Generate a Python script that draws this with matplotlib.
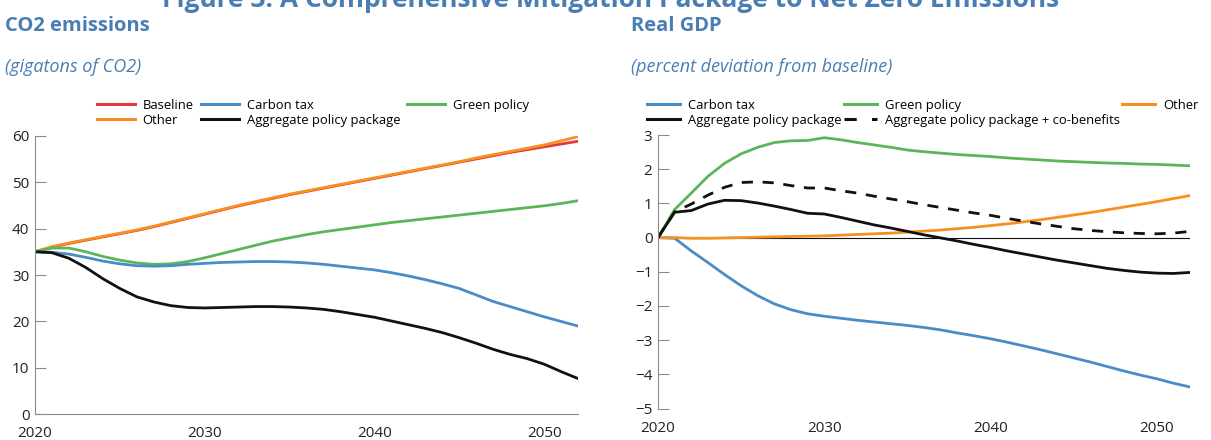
import matplotlib
matplotlib.use("Agg")
import matplotlib.pyplot as plt
from matplotlib.lines import Line2D

plt.rcParams['font.family'] = ['Open Sans', 'DejaVu Sans']

years = list(range(2020, 2053))

# CO2 emissions (gigatons of CO2)
co2_baseline = [35.0, 36.0, 36.8, 37.5, 38.2, 38.9, 39.6, 40.4, 41.3, 42.2, 43.1, 44.0, 44.9, 45.7, 46.5,
                47.3, 48.0, 48.7, 49.4, 50.1, 50.8, 51.5, 52.2, 52.9, 53.6, 54.3, 55.0, 55.7, 56.4, 57.0,
                57.6, 58.2, 58.8]
co2_other = [35.0, 36.1, 36.9, 37.6, 38.3, 39.0, 39.7, 40.5, 41.4, 42.3, 43.2, 44.1, 45.0, 45.8, 46.6,
             47.4, 48.1, 48.8, 49.5, 50.2, 50.9, 51.6, 52.3, 53.0, 53.7, 54.4, 55.2, 55.9, 56.6, 57.3,
             58.0, 58.9, 59.8]
co2_carbon_tax = [35.0, 34.9, 34.5, 33.8, 33.0, 32.4, 32.0, 31.9, 32.0, 32.3, 32.5, 32.7, 32.8, 32.9, 32.9,
                  32.8, 32.6, 32.3, 31.9, 31.5, 31.1, 30.5, 29.8, 29.0, 28.1, 27.1, 25.7, 24.3, 23.2, 22.1,
                  21.0, 20.0, 19.0]
co2_green = [35.0, 35.8, 35.8, 35.0, 34.0, 33.2, 32.6, 32.3, 32.4, 32.9, 33.7, 34.6, 35.5, 36.4, 37.3,
             38.0, 38.7, 39.3, 39.8, 40.3, 40.8, 41.3, 41.7, 42.1, 42.5, 42.9, 43.3, 43.7, 44.1, 44.5,
             44.9, 45.4, 46.0]
co2_aggregate = [35.0, 34.8, 33.6, 31.6, 29.2, 27.1, 25.3, 24.2, 23.4, 23.0, 22.9, 23.0, 23.1, 23.2, 23.2,
                 23.1, 22.9, 22.6, 22.1, 21.5, 20.9, 20.1, 19.3, 18.5, 17.6, 16.5, 15.3, 14.0, 12.9, 12.0,
                 10.8, 9.2, 7.7]

# Real GDP (percent deviation from baseline)
gdp_carbon_tax = [0.0, -0.02, -0.39, -0.73, -1.08, -1.41, -1.70, -1.94, -2.11, -2.23, -2.30, -2.36, -2.42,
                  -2.47, -2.52, -2.57, -2.63, -2.70, -2.79, -2.87, -2.96, -3.06, -3.17, -3.28, -3.40,
                  -3.52, -3.64, -3.77, -3.90, -4.02, -4.13, -4.26, -4.37]
gdp_green = [0.0, 0.82, 1.30, 1.79, 2.17, 2.45, 2.64, 2.78, 2.83, 2.84, 2.92, 2.86, 2.78, 2.71, 2.64,
             2.56, 2.51, 2.47, 2.43, 2.40, 2.37, 2.33, 2.30, 2.27, 2.24, 2.22, 2.20, 2.18, 2.17, 2.15,
             2.14, 2.12, 2.10]
gdp_other = [0.0, 0.0, -0.02, -0.02, -0.01, 0.0, 0.01, 0.02, 0.03, 0.04, 0.05, 0.07, 0.09, 0.11, 0.13,
             0.16, 0.19, 0.22, 0.26, 0.30, 0.35, 0.40, 0.46, 0.52, 0.59, 0.66, 0.73, 0.81, 0.89, 0.97,
             1.05, 1.14, 1.23]
gdp_aggregate = [0.0, 0.74, 0.79, 0.98, 1.09, 1.08, 1.01, 0.92, 0.82, 0.71, 0.69, 0.59, 0.48, 0.37, 0.28,
                 0.18, 0.08, -0.01, -0.10, -0.20, -0.29, -0.39, -0.48, -0.57, -0.66, -0.74, -0.82, -0.90,
                 -0.96, -1.01, -1.04, -1.05, -1.02]
gdp_aggregate_cobenefits = [0.0, 0.75, 0.98, 1.24, 1.47, 1.61, 1.63, 1.60, 1.52, 1.45, 1.45, 1.37, 1.30,
                            1.21, 1.13, 1.05, 0.96, 0.88, 0.80, 0.72, 0.65, 0.56, 0.48, 0.40, 0.33, 0.26,
                            0.21, 0.17, 0.14, 0.12, 0.11, 0.13, 0.18]

xticks = [2020, 2030, 2040, 2050]
co2_yticks = [0, 10, 20, 30, 40, 50, 60]
gdp_yticks = [-5, -4, -3, -2, -1, 0, 1, 2, 3]

RED = '#E2383A'
ORANGE = '#F7901E'
BLUE = '#4A8CC8'
GREEN = '#5DB55A'
BLACK = '#111111'
TITLE_BLUE = '#4A7EB3'
SPINE = '#8C8C8C'
LW = 2.0

W, H = 1211, 440
fig = plt.figure(figsize=(W / 100, H / 100), dpi=100)

fig.text(611 / W, 1 - 7 / H, 'Figure 3. A Comprehensive Mitigation Package to Net Zero Emissions',
         ha='center', va='baseline', fontsize=19, fontweight='bold', color=TITLE_BLUE)
fig.text(5 / W, 1 - 26 / H, 'CO2 emissions', ha='left', va='center', fontsize=14.5,
         fontweight='bold', color=TITLE_BLUE)
fig.text(631 / W, 1 - 26 / H, 'Real GDP', ha='left', va='center', fontsize=14.5,
         fontweight='bold', color=TITLE_BLUE)
fig.text(5 / W, 1 - 67 / H, '(gigatons of CO2)', ha='left', va='center', fontsize=13,
         style='italic', color=TITLE_BLUE)
fig.text(631 / W, 1 - 67 / H, '(percent deviation from baseline)', ha='left', va='center',
         fontsize=13, style='italic', color=TITLE_BLUE)


def style_axes(ax, xpad):
    for s in ['top', 'right']:
        ax.spines[s].set_visible(False)
    ax.spines['left'].set_color(SPINE)
    ax.spines['bottom'].set_color(SPINE)
    ax.tick_params(axis='y', direction='in', length=8, width=0.8, color=SPINE, labelsize=11,
                   labelcolor='#222222', pad=4)
    ax.tick_params(axis='x', length=0, labelsize=11, labelcolor='#222222', pad=xpad)
    ax.set_xticks(xticks)
    ax.set_xticklabels([str(t) for t in xticks])


LEG_FS = 9.4

# Left: CO2
ax1 = fig.add_axes([35 / W, 1 - 414.3 / H, 543 / W, 278.6 / H])
ax1.plot(years, co2_baseline, color=RED, lw=LW)
ax1.plot(years, co2_other, color=ORANGE, lw=LW)
ax1.plot(years, co2_green, color=GREEN, lw=LW)
ax1.plot(years, co2_carbon_tax, color=BLUE, lw=LW)
ax1.plot(years, co2_aggregate, color=BLACK, lw=LW)
ax1.set_xlim(2020, 2052)
ax1.set_ylim(0, 60)
ax1.set_yticks(co2_yticks)
style_axes(ax1, 8.5)

h1 = [Line2D([], [], color=RED, lw=2.2), Line2D([], [], color=ORANGE, lw=2.2),
      Line2D([], [], color=BLUE, lw=2.2), Line2D([], [], color=BLACK, lw=2.2),
      Line2D([], [], color=GREEN, lw=2.2)]
l1 = ['Baseline', 'Other', 'Carbon tax', 'Aggregate policy package', 'Green policy']
fig.legend(h1, l1, ncol=3, loc='upper left', bbox_to_anchor=(97 / W, 1 - 99 / H),
           frameon=False, fontsize=LEG_FS, handlelength=2.9, handletextpad=0.6, columnspacing=0.55,
           labelspacing=0.12, borderaxespad=0, borderpad=0)

# Right: GDP
ax2 = fig.add_axes([658 / W, 1 - 408.5 / H, 532 / W, 273.5 / H])
ax2.axhline(0, color=BLACK, lw=0.8)
ax2.plot(years, gdp_carbon_tax, color=BLUE, lw=LW)
ax2.plot(years, gdp_other, color=ORANGE, lw=LW)
ax2.plot(years, gdp_green, color=GREEN, lw=LW)
ax2.plot(years, gdp_aggregate_cobenefits, color=BLACK, lw=LW, dashes=(4, 3.5))
ax2.plot(years, gdp_aggregate, color=BLACK, lw=LW)
ax2.set_xlim(2020, 2052)
ax2.set_ylim(-5, 3)
ax2.set_yticks(gdp_yticks)
style_axes(ax2, 9)
ax2.spines['bottom'].set_visible(False)

h2 = [Line2D([], [], color=BLUE, lw=2.2), Line2D([], [], color=BLACK, lw=2.2),
      Line2D([], [], color=GREEN, lw=2.2), Line2D([], [], color=BLACK, lw=2.2, dashes=(4, 5)),
      Line2D([], [], color=ORANGE, lw=2.2)]
l2 = ['Carbon tax', 'Aggregate policy package', 'Green policy',
      'Aggregate policy package + co-benefits', 'Other']
fig.legend(h2, l2, ncol=3, loc='upper left', bbox_to_anchor=(647 / W, 1 - 99 / H),
           frameon=False, fontsize=LEG_FS, handlelength=2.55, handletextpad=0.6, columnspacing=0.15,
           labelspacing=0.12, borderaxespad=0, borderpad=0)

fig.savefig('out.png', dpi=100)
